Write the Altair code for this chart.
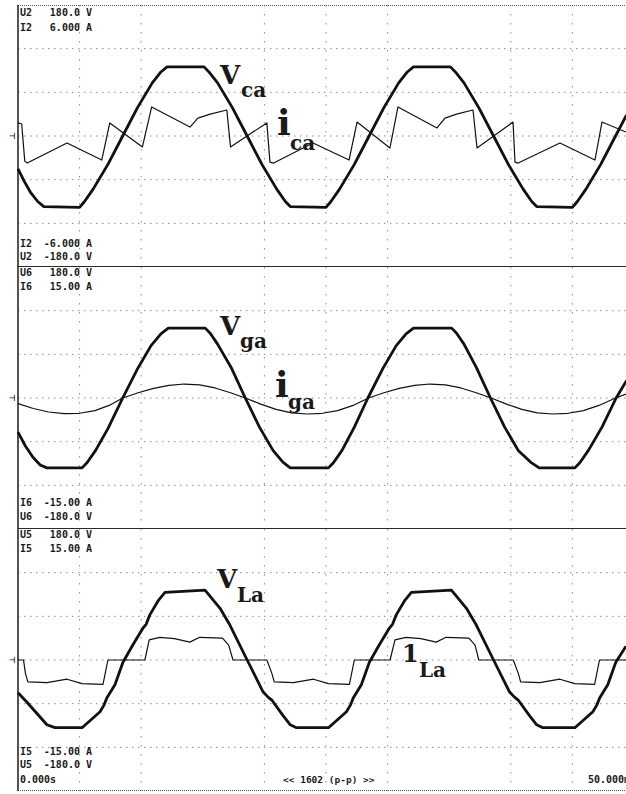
import altair as alt
import pandas as pd

# ---- screen geometry (time in ms, full-scale ranges per channel) ----
T_MIN, T_MAX = -1.46, 49.35
V_FS = 180.0
I_FS_TOP = 6.0
I_FS_LOW = 15.0
PANEL_W, PANEL_H = 626, 262

GRID_T = [5, 10, 20, 25, 30, 40, 45]
GRID_V = [-120, -60, 0, 60, 120]

# ---- converter voltage / current (top) ----
V_CA_T = [0.0, 0.5, 1.0, 1.6, 2.1, 5.0, 5.4, 6.1, 7.3, 8.5, 9.7, 10.9, 11.6, 12.1,
          15.1, 15.5, 16.2, 17.4, 18.6, 19.8, 21.0, 21.7, 22.1, 25.0, 25.4, 26.1,
          27.3, 28.5, 29.7, 30.9, 31.6, 32.1, 35.1, 35.5, 36.2, 37.4, 38.6, 39.8,
          41.0, 41.7, 42.1, 45.0, 45.4, 46.1, 47.3, 48.5, 49.4]
V_CA_V = [-45, -62, -77, -90, -97, -98, -90, -73, -39, 0, 39, 73, 88, 95,
          95, 88, 73, 39, 0, -39, -73, -90, -97, -98, -90, -73,
          -39, 0, 39, 73, 88, 95, 95, 88, 73, 39, 0, -39,
          -73, -90, -97, -98, -90, -73, -39, 0, 29]

I_CA_T = [0.0, 0.3, 0.55, 0.75, 3.98, 6.8, 7.45, 10.1, 10.85, 13.96, 14.6, 15.6,
          16.95, 17.25, 20.2, 20.45, 20.75, 23.95, 26.87, 27.52, 30.19, 30.84,
          34.01, 34.66, 35.6, 36.93, 37.26, 40.18, 40.34, 40.6, 43.99, 46.83,
          47.40, 49.35]
I_CA_V = [0.6, 0.55, -1.15, -1.24, -0.32, -1.10, 0.60, -0.50, 1.33, 0.41, 0.82, 1.0,
          1.19, -0.50, 0.60, -1.2, -1.24, -0.32, -1.10, 0.64, -0.55, 1.33,
          0.37, 0.82, 1.0, 1.19, -0.55, 0.64, -1.2, -1.24, -0.32, -1.10,
          0.64, 0.18]

# ---- grid voltage / current (middle) ----
V_GA_T = [0.0, 0.6, 1.2, 1.8, 2.35, 5.2, 5.6, 6.3, 7.3, 8.5, 9.7, 10.8, 11.6, 12.2,
          15.2, 15.6, 16.2, 17.3, 18.45, 19.6, 20.7, 21.5, 22.1, 25.2, 25.6, 26.3,
          27.3, 28.4, 29.6, 30.7, 31.5, 32.1, 35.2, 35.6, 36.2, 37.2, 38.35, 39.5,
          40.6, 41.6, 42.3, 45.2, 45.6, 46.3, 47.4, 48.55, 49.4]
V_GA_V = [-47, -66, -81, -92, -96, -96, -89, -72, -42, 0, 40, 72, 88, 96,
          96, 89, 74, 42, 0, -40, -72, -88, -96, -96, -89, -72,
          -40, 0, 40, 72, 88, 96, 96, 89, 74, 42, 0, -40,
          -72, -88, -96, -96, -89, -72, -40, 0, 24]

I_GA_T = [0, 1.25, 2.5, 3.75, 5.0, 6.25, 7.4, 8.5, 9.75, 11.0, 12.25, 13.5, 14.75,
          16.0, 17.25, 18.45, 19.7, 20.95, 22.2, 23.45, 24.7, 25.95, 27.2, 28.45,
          29.7, 30.95, 32.2, 33.45, 34.7, 35.95, 37.2, 38.4, 39.65, 40.9, 42.15,
          43.4, 44.65, 45.9, 47.15, 48.5, 49.35]
I_GA_V = [-0.65, -1.2, -1.6, -1.8, -1.75, -1.45, -0.85, 0, 0.6, 1.1, 1.45, 1.6, 1.5,
          1.15, 0.6, 0, -0.7, -1.3, -1.7, -1.83, -1.75, -1.45, -0.85, 0,
          0.6, 1.1, 1.45, 1.6, 1.5, 1.15, 0.6, 0, -0.7, -1.3, -1.7,
          -1.83, -1.75, -1.45, -0.85, 0, 0.45]

# ---- load voltage / current (bottom) ----
V_LA_T = [0.0, 0.73, 2.35, 3.0, 5.2, 6.66, 6.98, 7.22, 7.87, 8.52, 9.33, 10.15, 10.4,
          10.7, 11.4, 11.93, 15.18, 16.4, 17.2, 18.6, 19.9, 20.3, 20.6, 21.5, 22.1,
          22.6, 25.2, 26.66, 26.98, 27.22, 27.87, 28.52, 29.33, 30.15, 30.4, 30.7,
          31.4, 31.93, 35.18, 36.4, 37.2, 38.6, 39.9, 40.3, 40.6, 41.5, 42.1, 42.6,
          45.2, 46.66, 46.98, 47.22, 47.87, 48.52, 49.35]
V_LA_V = [-45, -58, -89, -93, -93, -71, -62, -52, -34, -3, 21, 44, 49,
          62, 82, 93, 96, 71, 48, 0, -44, -51, -55, -76, -89,
          -93, -93, -71, -62, -52, -34, -3, 21, 44, 49, 62,
          82, 93, 96, 71, 48, 0, -44, -51, -55, -76, -89, -93,
          -93, -71, -62, -52, -34, -3, 19]

I_LA_T = [0.0, 0.45, 0.6, 0.8, 2.35, 3.98, 5.2, 6.9, 7.3, 10.3, 10.65, 11.5, 12.7,
          13.95, 14.75, 16.6, 17.1, 17.45, 20.2, 20.6, 20.8, 22.35, 23.98, 25.2,
          26.9, 27.3, 30.2, 30.6, 31.5, 32.7, 33.95, 34.75, 36.6, 37.1, 37.4, 40.2,
          40.6, 40.8, 42.35, 43.98, 45.2, 46.8, 47.2, 49.35]
I_LA_V = [0, 0, -1.5, -2.5, -2.6, -2.2, -2.7, -2.8, 0, 0, 2.3, 2.6, 2.45,
          2.05, 2.6, 2.5, 1.7, 0, 0, -1.5, -2.5, -2.6, -2.2, -2.7,
          -2.8, 0, 0, 2.3, 2.6, 2.45, 2.05, 2.6, 2.5, 1.7, 0, 0,
          -1.5, -2.5, -2.6, -2.2, -2.7, -2.8, 0, 0]

INK = "#111111"
GRID_COLOR = "#8c8c8c"
MONO = "DejaVu Sans Mono"
SERIF = "DejaVu Serif"

x_scale = alt.Scale(domain=[T_MIN, T_MAX], nice=False, zero=False)
ONE = pd.DataFrame({"k": [0]})


def y_scale(fs):
    return alt.Scale(domain=[-fs, fs], nice=False, zero=False)


def trace(t, v, fs, width):
    df = pd.DataFrame({"t": t, "v": v})
    return alt.Chart(df).mark_line(
        color=INK, strokeWidth=width, clip=True, strokeJoin="round"
    ).encode(
        x=alt.X("t:Q", scale=x_scale, axis=None),
        y=alt.Y("v:Q", scale=y_scale(fs), axis=None),
    )


def grid():
    h = alt.Chart(pd.DataFrame({"v": GRID_V})).mark_rule(
        color=GRID_COLOR, strokeWidth=1, strokeDash=[1.5, 4.5], clip=True
    ).encode(
        x=alt.X(datum=0, scale=x_scale, axis=None),
        x2=alt.X2(datum=T_MAX),
        y=alt.Y("v:Q", scale=y_scale(V_FS), axis=None),
    )
    v = alt.Chart(pd.DataFrame({"t": GRID_T})).mark_rule(
        color=GRID_COLOR, strokeWidth=1, strokeDash=[1.5, 7.5], clip=True
    ).encode(x=alt.X("t:Q", scale=x_scale, axis=None))
    return [h, v]


def hborder(level, dotted):
    style = dict(color="#555555", strokeWidth=2, strokeDash=[1, 1]) if dotted else \
        dict(color="#2a2a2a", strokeWidth=2)
    return alt.Chart(ONE).mark_rule(clip=True, **style).encode(
        x=alt.X(datum=0, scale=x_scale, axis=None),
        x2=alt.X2(datum=T_MAX),
        y=alt.Y(datum=level, scale=y_scale(V_FS), axis=None),
    )


def left_border():
    return alt.Chart(ONE).mark_rule(color="#2a2a2a", strokeWidth=1.6, clip=True).encode(
        x=alt.X(datum=0, scale=x_scale, axis=None)
    )


def label(txt, x, y, size=10, font=MONO, weight="bold", align="left",
          baseline="middle", clip=False):
    return alt.Chart(ONE).mark_text(
        font=font, fontSize=size, fontWeight=weight, align=align,
        baseline=baseline, color="#1a1a1a", clip=clip
    ).encode(x=alt.value(x), y=alt.value(y), text=alt.value(txt))


def corner(prefix, value, y):
    return [label(prefix, 20, y), label(value, 92, y, align="right")]


def big(txt, x, y, size):
    return label(txt, x, y, size=size, font=SERIF, weight="bold", baseline="alphabetic")


def panel(layers):
    return alt.layer(*layers).resolve_scale(y="independent").properties(
        width=PANEL_W, height=PANEL_H
    )


def ground():
    return label("⊣", 9, 131, size=10, weight="normal")


top = panel(
    grid()
    + [hborder(V_FS, True), hborder(-V_FS, False), left_border()]
    + [trace(I_CA_T, I_CA_V, I_FS_TOP, 1.2), trace(V_CA_T, V_CA_V, V_FS, 2.8)]
    + corner("U2", "180.0 V", 8) + corner("I2", "6.000 A", 23)
    + corner("I2", "-6.000 A", 239) + corner("U2", "-180.0 V", 252)
    + [ground(),
       big("V", 220, 79, 26), big("ca", 241, 92, 20),
       big("i", 277, 130, 36), big("ca", 290, 145, 20)]
)

middle = panel(
    grid()
    + [hborder(-V_FS, False), left_border()]
    + [trace(I_GA_T, I_GA_V, I_FS_LOW, 1.2), trace(V_GA_T, V_GA_V, V_FS, 2.8)]
    + corner("U6", "180.0 V", 6) + corner("I6", "15.00 A", 20)
    + corner("I6", "-15.00 A", 236) + corner("U6", "-180.0 V", 250)
    + [ground(),
       big("V", 220, 68, 26), big("ga", 240, 81, 20),
       big("i", 275, 130, 36), big("ga", 288, 142, 20)]
)

bottom = panel(
    grid()
    + [hborder(-V_FS, True), left_border()]
    + [trace(I_LA_T, I_LA_V, I_FS_LOW, 1.2), trace(V_LA_T, V_LA_V, V_FS, 2.8)]
    + corner("U5", "180.0 V", 6) + corner("I5", "15.00 A", 20)
    + corner("I5", "-15.00 A", 223) + corner("U5", "-180.0 V", 236)
    + [label("0.000s", 20, 251),
       label("<< 1602 (p-p) >>", 283, 251, size=9.5),
       label("50.000ms", 588, 251, clip=True),
       ground(),
       big("V", 217, 59, 26), big("La", 237, 73, 20),
       big("1", 402, 133, 24), big("La", 419, 148, 20)]
)

chart = alt.vconcat(top, middle, bottom, spacing=0, bounds="flush").configure(
    padding={"left": 0, "right": 0, "top": 5, "bottom": 3},
    background="white",
).configure_view(stroke=None)

chart.save("out.html", embed_options={"renderer": "svg", "actions": False})
